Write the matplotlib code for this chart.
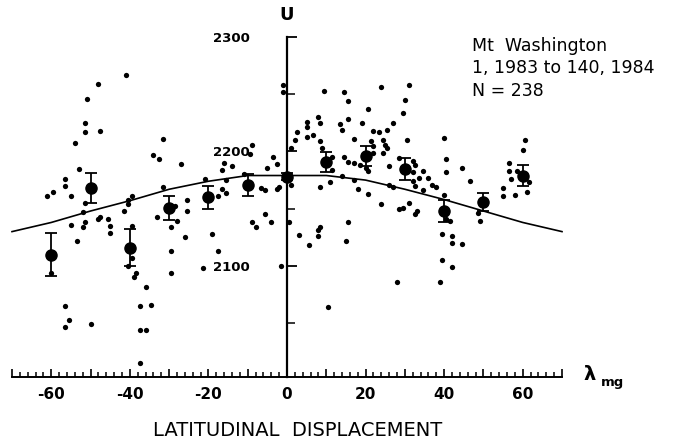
import matplotlib
matplotlib.use("Agg")
import matplotlib.pyplot as plt
from matplotlib.ticker import MultipleLocator, FixedLocator, FuncFormatter

# individual daily points (latitude, U)
pts_x = [-41, -48, -51, -51.5, -51.5, -47.5, -54, -53, -56.5, -56.5, -59.5, -61, -55,
         -51.5, -52, -47.5, -48, -45.5, -45, -55, -51.5, -52, -41.5, -40.5, -39.5, -40.5,
         -39.5, -33, -31.5, -34, -32.5, -31.5, -27,
         -21, -16, -14, -16.5, -15.5, -16.5, -15.5, -17.5, -9, -9.5, -11, -6.5, -5.5, -5,
         -3.5, -2.5, -2.5, -2, -1, -1, -25.5, -25.5, -28.5, -28, -9, -8, -5.5, -4, 0.5, 2,
         9.5, 14.5, 15.5, 24, 31, 30, 29.5, 20.5, 15.5, 13.5, 14, 19, 27, 25.5, 23.5, 22,
         17, 21.5, 22, 24.5, 25, 25.5, 24.5, 22, 30.5, 8, 8.5, 5, 5, 5, 6.5, 2.5, 1, 8.5, 9,
         11.5, 14.5, 15.5, 17, 18.5, 20, 20.5, 11.5, 14, 26, 28.5, 32, 32.5, 34.5, 32, 33.5,
         32, 32.5, 34.5, 36, 8.5, 11, 17, 18, 20.5, 26, 27, 31, 28.5, 29.5, 32.5, 33, 24,
         15.5, 1, 8.5,
         40, 40.5, 40.5, 44.5, 46.5, 37, 38, 40, 41.5, 40.5, 49, 48.5, 60.5, 60, 56.5, 56.5,
         57, 61.5, 61, 58, 55, 55, 58.5,
         -53.5, -45, -60, -39.5, -40.5, -38.5, -39, -36, -56.5, -55.5, -56.5, -50, -37.5,
         -34.5, -37.5, -36, -37.5, -29.5, -29.5, -29.5,
         -26, -19, -17.5, -21.5, -1.5,
         3, 5.5, 8, 8, 15, 10.5, 28,
         39.5, 42, 42, 44.5, 39.5, 42, 39]
pts_u = [2267, 2259, 2246, 2225, 2217, 2218, 2207, 2185, 2176, 2170, 2165, 2161, 2161,
         2155, 2147, 2143, 2141, 2141, 2135, 2136, 2138, 2134, 2148, 2158, 2161, 2154,
         2135, 2143, 2169, 2197, 2193, 2211, 2189,
         2176, 2190, 2187, 2184, 2175, 2167, 2164, 2161, 2206, 2198, 2180, 2168, 2166, 2186,
         2195, 2189, 2167, 2169, 2258, 2252, 2158, 2148, 2152, 2139, 2138, 2134, 2145, 2138, 2138, 2210,
         2253, 2252, 2244, 2256, 2258, 2245, 2234, 2237, 2228, 2224, 2219, 2225, 2225, 2219, 2217, 2218,
         2211, 2209, 2205, 2210, 2206, 2203, 2199, 2199, 2210, 2230, 2225, 2226, 2221, 2213, 2214, 2217, 2203, 2209, 2203,
         2195, 2195, 2191, 2190, 2188, 2186, 2183, 2184, 2179, 2187, 2194, 2192, 2188, 2183, 2182, 2177,
         2174, 2170, 2166, 2177, 2169, 2173, 2175, 2167, 2163, 2171, 2169, 2155, 2150, 2151, 2145, 2148, 2154,
         2138, 2171, 2134,
         2212, 2193, 2182, 2186, 2174, 2171, 2169, 2162, 2139, 2141, 2139, 2146, 2210, 2201, 2190, 2183,
         2176, 2173, 2165, 2162, 2168, 2161, 2183,
         2122, 2129, 2094, 2107, 2100, 2094, 2090, 2082, 2065, 2053, 2047, 2049, 2065,
         2066, 2044, 2044, 2015, 2134, 2113, 2094,
         2125, 2128, 2113, 2098, 2100,
         2127, 2118, 2131, 2126, 2122, 2064, 2086,
         2128, 2126, 2120, 2119, 2105, 2099, 2086]

# 10-degree bin means with error bars
bin_x = [-60, -50, -40, -30, -20, -10, 0, 10, 20, 30, 40, 50, 60]
bin_u = [2110, 2168, 2116, 2151, 2160, 2171, 2178, 2191, 2196, 2185, 2148, 2156, 2179]
bin_err = [18.5, 13, 16, 10.5, 10, 9.5, 3, 8.5, 9, 9.5, 10, 8, 9.5]

# fitted curve
fit_x = [-70, -60, -50, -40, -30, -20, -10, 0, 10, 20, 30, 40, 50, 60, 70]
fit_u = [2130, 2138, 2148, 2157, 2167, 2174, 2179, 2179, 2179, 2175, 2167, 2158, 2148, 2138, 2130]

fig = plt.figure(figsize=(6.75, 4.4), dpi=100)
ax = fig.add_axes([12/675, 1-377/440, 550/675, 340/440])

ax.plot(fit_x, fit_u, color='black', lw=1.2, clip_on=False)
ax.plot(pts_x, pts_u, 'o', color='black', ms=3.8, mew=0, clip_on=False)
ax.errorbar(bin_x, bin_u, yerr=bin_err, fmt='o', color='black', ms=8,
            elinewidth=1.3, capsize=4, capthick=1.3, clip_on=False)

ax.set_xlim(-70, 70)
ax.set_ylim(2003, 2300)

for s in ['top', 'right']:
    ax.spines[s].set_visible(False)
ax.spines['left'].set_position(('data', 0))
ax.spines['left'].set_linewidth(1.6)
ax.spines['bottom'].set_linewidth(1.4)

ax.xaxis.set_major_locator(MultipleLocator(10))
ax.xaxis.set_minor_locator(MultipleLocator(2))
ax.xaxis.set_major_formatter(FuncFormatter(lambda v, p: '%d' % v if round(v) % 20 == 0 else ''))
ax.tick_params(axis='x', which='major', direction='in', length=6, width=1.2, pad=7, labelsize=11)
ax.tick_params(axis='x', which='minor', direction='in', length=3.5, width=1.1)

ax.yaxis.set_major_locator(FixedLocator([2100, 2200, 2300]))
ax.yaxis.set_minor_locator(FixedLocator([2050, 2150, 2250]))
ax.tick_params(axis='y', which='major', direction='in', length=7, width=1.3, pad=27, labelsize=9.5)
ax.tick_params(axis='y', which='minor', direction='in', length=6, width=1.1)
for lab in ax.get_xticklabels() + ax.get_yticklabels():
    lab.set_fontweight('bold')

fig.text(287/675, 1-15/440, 'U', ha='center', va='center', fontsize=13, fontweight='bold')
fig.text(583/675, 1-374/440, '\u03bb', ha='left', va='center', fontsize=14, fontweight='bold')
fig.text(601/675, 1-382/440, 'mg', ha='left', va='center', fontsize=9.5, fontweight='bold')
fig.text(298/675, 1-430/440, 'LATITUDINAL  DISPLACEMENT', ha='center', va='center',
         fontsize=14)

fig.text(472/675, 1-46/440, 'Mt  Washington', ha='left', va='center', fontsize=12.5)
fig.text(472/675, 1-68/440, '1, 1983 to 140, 1984', ha='left', va='center', fontsize=12.5)
fig.text(472/675, 1-91/440, 'N = 238', ha='left', va='center', fontsize=12.5)

fig.savefig('out.png', dpi=100)
